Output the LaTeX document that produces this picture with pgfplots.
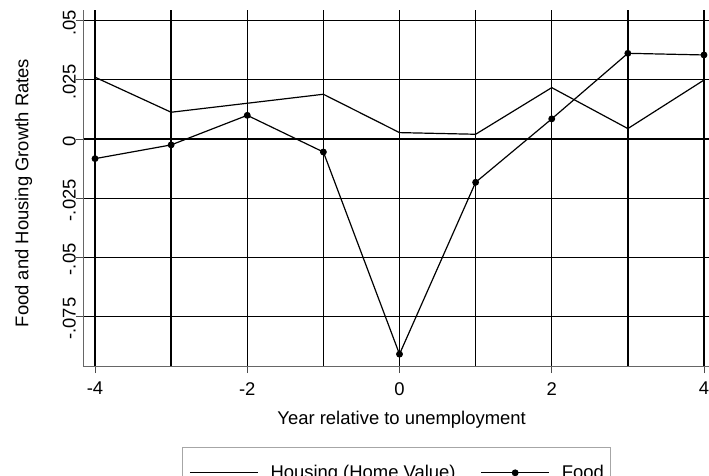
\documentclass[border=0pt]{standalone}
\usepackage{fontspec}
\setmainfont{Liberation Sans}
\usepackage{pgfplots}
\pgfplotsset{compat=1.18}
\begin{document}
\begin{tikzpicture}
\begin{axis}[
  scale only axis,
  width=626bp, height=356bp,
  at={(0,0)}, anchor=south west,
  xmin=-4.158, xmax=4.066,
  ymin=-0.0959, ymax=0.0545,
  axis lines*=left,
  axis line style={-, black!60, line width=0.7bp},
  xtick={-4,-2,0,2,4},
  xticklabels={-4,-2,0,2,4},
  minor xtick={-3,-1,1,3},
  ytick={-0.075,-0.05,-0.025,0,0.025,0.05},
  yticklabels={-.075,-.05,-.025,0,.025,.05},
  scaled y ticks=false,
  scaled x ticks=false,
  grid=both,
  major grid style={black, line width=1.3bp},
  minor grid style={black, line width=1.3bp},
  tick align=outside,
  major tick length=7bp,
  minor tick length=0pt,
  tick style={black!70, line width=0.7bp},
  /pgf/number format/assume math mode=true,
  tick label style={font=\fontsize{18.5}{22}\selectfont},
  xticklabel style={anchor=north, inner sep=0pt, yshift=-9bp},
  yticklabel style={rotate=90, anchor=south, inner sep=0pt, xshift=-2bp},
  label style={font=\fontsize{18.5}{22}\selectfont},
  xlabel={Year relative to unemployment},
  ylabel={Food and Housing Growth Rates},
  xlabel style={at={(axis description cs:0.509,-0.1517)}, anchor=center},
  ylabel style={at={(axis description cs:-0.095,0.486)}, anchor=center},
  legend columns=2,
  legend cell align=left,
  legend image code/.code={\draw[mark repeat=2,mark phase=2,#1] plot coordinates {(0bp,0bp) (34bp,0bp) (68bp,0bp)};},
  legend style={at={(axis description cs:0.158,-0.2275)}, anchor=north west,
    draw=black!35, line width=0.8bp, font=\fontsize{18.5}{22}\selectfont,
    inner xsep=7bp, inner ysep=18bp, nodes={inner sep=0pt},
    /tikz/every odd column/.append style={column sep=12bp},
    /tikz/every even column/.append style={column sep=25bp}},
]
\addplot[black, line width=1.2bp, mark=none] coordinates {
  (-4,0.0261) (-3,0.0113) (-2,0.0151) (-1,0.0189) (0,0.0027)
  (1,0.0020) (2,0.0217) (3,0.0044) (4,0.0249)
};
\addlegendentry{Housing (Home Value)}
\addplot[black, line width=1.2bp, mark=*, mark size=2.8bp, mark options={solid, fill=black}] coordinates {
  (-4,-0.0083) (-3,-0.0025) (-2,0.0100) (-1,-0.0055) (0,-0.0909)
  (1,-0.0183) (2,0.0085) (3,0.0362) (4,0.0355)
};
\addlegendentry{Food}
\end{axis}
\pgfresetboundingbox
\path[use as bounding box] (-83bp,-110bp) rectangle (626bp,366bp);
\end{tikzpicture}
\end{document}
